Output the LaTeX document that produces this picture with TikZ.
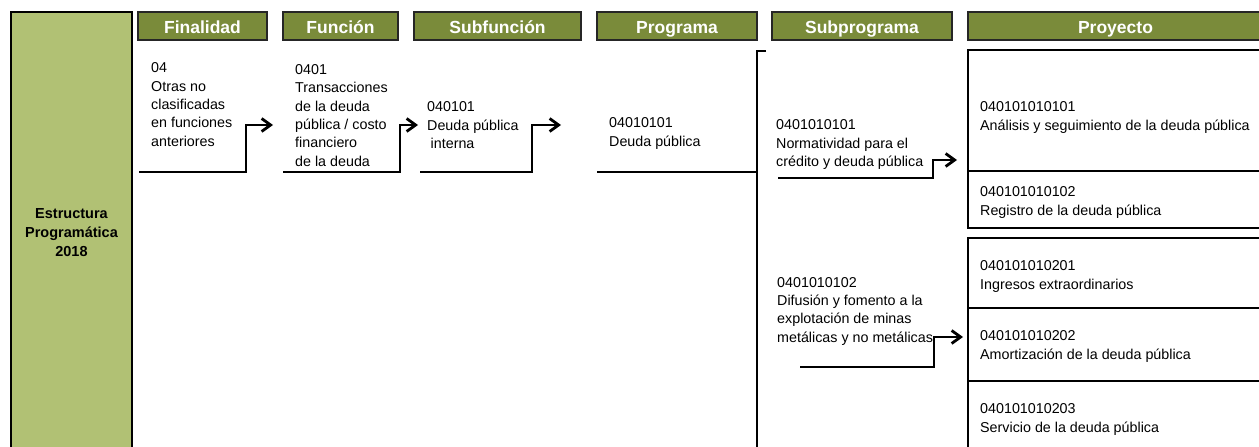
\documentclass[tikz,border=0pt]{standalone}
\usepackage{fontspec}
\setmainfont{Liberation Sans}
\usetikzlibrary{arrows.meta}
\definecolor{hdrgreen}{RGB}{122,139,58}
\definecolor{sidegreen}{RGB}{177,193,116}
\begin{document}
\begin{tikzpicture}[x=1pt,y=-1pt,
  hdrbox/.style={fill=hdrgreen, draw=black!85, line width=1.2pt, text=white,
    font=\bfseries\fontsize{17.5}{20}\selectfont, minimum height=28pt, inner sep=0pt,
    text height=16pt, text depth=2pt, anchor=center},
  txt/.style={anchor=base west, align=left, inner sep=0pt, font=\fontsize{14.3}{18.3}\selectfont},
  arr/.style={line width=2.8pt, -{Straight Barb[length=9pt,width=13pt]}},
  ln/.style={line width=2pt}]
\useasboundingbox (0,0) rectangle (1259,447);
\clip (0,0) rectangle (1259,447);

% left column
\draw[fill=sidegreen, line width=1.5pt] (11,12) rectangle (132,460);
\node[font=\bfseries\fontsize{14.5}{19}\selectfont, align=center] (title) at (71.5,233)
  {Estructura\\Programática\\2018};

% headers
\node[hdrbox, minimum width=129pt] (hfin) at (202.5,26) {Finalidad};
\node[hdrbox, minimum width=115pt] (hfun) at (340.5,26) {Función};
\node[hdrbox, minimum width=167pt] (hsub) at (497.5,26) {Subfunción};
\node[hdrbox, minimum width=160pt] (hprog) at (677,26) {Programa};
\node[hdrbox, minimum width=180pt] (hsprog) at (862,26) {Subprograma};
\node[hdrbox, minimum width=295pt] (hproy) at (1115.5,26) {Proyecto};

% texts (anchored at the baseline of their last line)
\node[txt] (fin) at (151,146) {04\\Otras no\\clasificadas\\en funciones\\anteriores};
\node[txt] (fun) at (295,166) {0401\\Transacciones\\de la deuda\\pública / costo\\financiero\\de la deuda};
\node[txt] (sub) at (427,148.5) {040101\\Deuda pública\\\hspace{3.5pt}interna};
\node[txt] (prog) at (609,146) {04010101\\Deuda pública};
\node[txt] (sp1) at (776,166.5) {0401010101\\Normatividad para el\\crédito y deuda pública};
\node[txt] (sp2) at (777,342) {0401010102\\Difusión y fomento a la\\explotación de minas\\metálicas y no metálicas};
\node[txt] (p1) at (980,130) {040101010101\\Análisis y seguimiento de la deuda pública};
\node[txt] (p2) at (980,215) {040101010102\\Registro de la deuda pública};
\node[txt] (p3) at (980,289) {040101010201\\Ingresos extraordinarios};
\node[txt] (p4) at (980,359) {040101010202\\Amortización de la deuda pública};
\node[txt] (p5) at (980,432) {040101010203\\Servicio de la deuda pública};

% project boxes
\draw[ln] (1265,50) -- (968,50) -- (968,228) -- (1265,228);
\draw[ln] (968,171) -- (1265,171);
\draw[ln] (1265,238) -- (968,238) -- (968,460);
\draw[ln] (968,308) -- (1265,308);
\draw[ln] (968,381) -- (1265,381);

% programa line and bracket
\coordinate (pl) at (597,172);
\coordinate (bt) at (766,51);
\coordinate (bb) at (757,460);
\draw[ln] (pl) -- (bb |- pl);
\draw[ln] (bt) -- (bb |- bt) -- (bb);

% arrows
\coordinate (a1s) at (139,172); \coordinate (a1e) at (273,125);
\coordinate (a2s) at (283,172); \coordinate (a2e) at (418,125);
\coordinate (a3s) at (420,172); \coordinate (a3e) at (561,125);
\coordinate (a4s) at (778,178); \coordinate (a4e) at (957,160);
\coordinate (a5s) at (800,367); \coordinate (a5e) at (963,337);
\draw[arr] (a1s) -- ++(107,0) |- (a1e);
\draw[arr] (a2s) -- ++(117,0) |- (a2e);
\draw[arr] (a3s) -- ++(112,0) |- (a3e);
\draw[arr] (a4s) -- ++(155,0) |- (a4e);
\draw[arr] (a5s) -- ++(134,0) |- (a5e);
\end{tikzpicture}
\end{document}
